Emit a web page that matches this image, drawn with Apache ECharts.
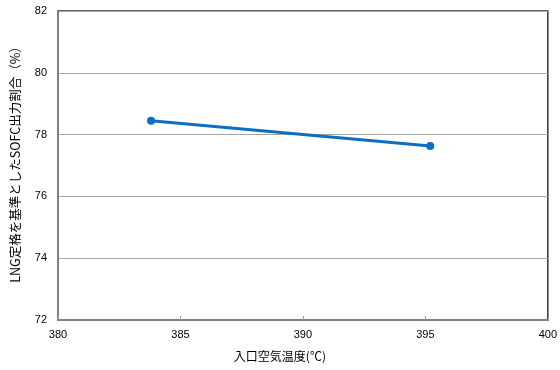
<!DOCTYPE html>
<html><head><meta charset="utf-8">
<script src="https://cdn.jsdelivr.net/npm/echarts@6/dist/echarts.min.js"></script>
<style>html,body{margin:0;padding:0;background:#fff}#c{width:560px;height:370px}</style>
</head><body><div id="c"></div>
<script>
const xValues = [383.8, 395.2];
const yValues = [78.45, 77.63];
const xTicks = [380, 385, 390, 395, 400];
const yTicks = [72, 74, 76, 78, 80, 82];
const xTitle = '入口空気温度(℃)';
const yTitle = 'LNG定格を基準としたSOFC出力割合（%）';

const chart = echarts.init(document.getElementById('c'), null, {renderer: 'canvas'});
const font = '"Noto Sans CJK JP", "Liberation Sans", sans-serif';
const lfont = '"Liberation Sans", Arial, sans-serif';
chart.setOption({
  animation: false,
  grid: {left: 58, right: 11, top: 11, bottom: 50, show: true, borderColor: '#333', borderWidth: 1.5, backgroundColor: 'transparent'},
  xAxis: {
    type: 'value', min: xTicks[0], max: xTicks[xTicks.length - 1], interval: 5,
    name: xTitle, nameLocation: 'middle', nameGap: 30,
    nameTextStyle: {color: '#000', fontSize: 12, fontFamily: font, padding: [0, 46, 0, 0]},
    axisLine: {show: true, lineStyle: {color: '#808080', width: 2}},
    axisTick: {show: true, inside: true, length: 4, lineStyle: {color: '#999'}},
    axisLabel: {color: '#000', fontSize: 11, fontFamily: lfont, margin: 9},
    splitLine: {show: false}
  },
  yAxis: {
    type: 'value', min: yTicks[0], max: yTicks[yTicks.length - 1], interval: 2,
    name: yTitle, nameLocation: 'middle', nameGap: 36,
    nameTextStyle: {color: '#000', fontSize: 12.5, fontFamily: font, padding: [0, 0, 0, 8]},
    axisLine: {show: true, lineStyle: {color: '#808080', width: 2}},
    axisTick: {show: false},
    axisLabel: {color: '#000', fontSize: 11, fontFamily: lfont, margin: 11},
    splitLine: {show: true, lineStyle: {color: '#a6a6a6', width: 1}}
  },
  series: [{
    type: 'line',
    data: xValues.map((x, i) => [x, yValues[i]]),
    symbol: 'circle', symbolSize: 8,
    lineStyle: {color: '#0a6fc2', width: 3},
    itemStyle: {color: '#0a6fc2'}
  }]
});
</script></body></html>
